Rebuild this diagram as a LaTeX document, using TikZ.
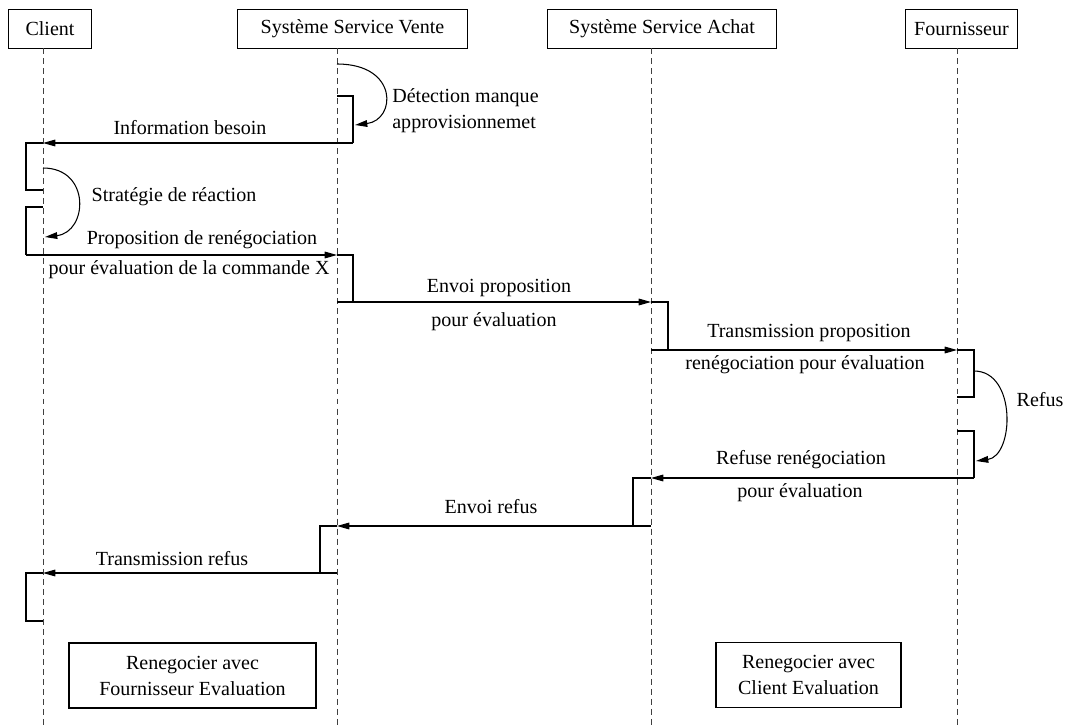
\documentclass[tikz,border=0pt]{standalone}
\usepackage{fontspec}
\setmainfont{Liberation Serif}
\usetikzlibrary{arrows.meta,positioning}

\begin{document}
\begin{tikzpicture}[
  x=0.02cm, y=-0.02cm,
  font=\fontsize{11.4}{14.8}\selectfont,
  actor/.style={draw, line width=0.6pt, minimum height=0.78cm, inner sep=0pt},
  life/.style={dash pattern=on 3.4pt off 2.3pt, line width=0.5pt, draw=black!75},
  bar/.style={line width=0.6pt},
  msg/.style={-{Triangle[length=7pt,width=3.8pt]}, line width=0.6pt},
  goal/.style={draw, line width=0.6pt, align=center, inner sep=0pt, minimum height=1.3cm}
]
\useasboundingbox (0,0) rectangle (1066,727);

\node[actor, minimum width=1.66cm, anchor=north west] (cl) at (8,9) {Client};
\node[actor, minimum width=4.6cm, anchor=north west] (sv) at (237,9) {Système Service Vente};
\node[actor, minimum width=4.58cm, anchor=north west] (sa) at (547,9) {Système Service Achat};
\node[actor, minimum width=2.24cm, anchor=north west] (fo) at (905,9) {Fournisseur};

\foreach \n/\x in {cl/43, sv/337, sa/651, fo/957}{
  \coordinate (\n top) at (\x,48);
  \coordinate (\n end) at (\x,727);
  \draw[life] (\n top) -- (\n end);
}

\coordinate (m1a) at (337,64);   \coordinate (m1b) at (355,125);
\coordinate (m2a) at (353,143);  \coordinate (m2b) at (43,143);
\coordinate (m3a) at (43,168);   \coordinate (m3b) at (45,237);
\coordinate (m4a) at (26,255);   \coordinate (m4b) at (337,255);
\coordinate (m5a) at (337,302);  \coordinate (m5b) at (651,302);
\coordinate (m6a) at (651,350);  \coordinate (m6b) at (957,350);
\coordinate (m7a) at (974,371);  \coordinate (m7b) at (976,461);
\coordinate (m8a) at (974,478);  \coordinate (m8b) at (651,478);
\coordinate (m9a) at (651,526);  \coordinate (m9b) at (337,526);
\coordinate (m10a) at (337,573); \coordinate (m10b) at (43,573);

\draw[bar] (337,96) -- (353,96) -- (353,143);
\draw[bar] (43,143) -- (26,143) -- (26,190) -- (43,190);
\draw[bar] (43,207) -- (26,207) -- (26,255);
\draw[bar] (337,255) -- (353,255) -- (353,302);
\draw[bar] (651,302) -- (668,302) -- (668,350);
\draw[bar] (957,350) -- (974,350) -- (974,397) -- (957,397);
\draw[bar] (957,431) -- (974,431) -- (974,478);
\draw[bar] (651,478) -- (633,478) -- (633,526);
\draw[bar] (337,526) -- (320,526) -- (320,573);
\draw[bar] (43,573) -- (26,573) -- (26,621) -- (43,621);

\draw[msg] (m1a) .. controls (399,64) and (396,120) .. (m1b);
\draw[msg] (m2a) -- (m2b);
\draw[msg] (m3a) .. controls (91,168) and (88,232) .. (m3b);
\draw[msg] (m4a) -- (m4b);
\draw[msg] (m5a) -- (m5b);
\draw[msg] (m6a) -- (m6b);
\draw[msg] (m7a) .. controls (1017,371) and (1014,456) .. (m7b);
\draw[msg] (m8a) -- (m8b);
\draw[msg] (m9a) -- (m9b);
\draw[msg] (m10a) -- (m10b);

\node[align=left, anchor=west, inner sep=0pt] (l1) at (392,111) {Détection manque\\approvisionnemet};
\node (l2) at (190,128) {Information besoin};
\node (l3) at (174,197) {Stratégie de réaction};
\node (l4) at (202,240) {Proposition de renégociation};
\node (l4b) at (189,270) {pour évaluation de la commande X};
\node (l5) at (499,288) {Envoi proposition};
\node (l5b) at (494,322) {pour évaluation};
\node (l6) at (809,333) {Transmission proposition};
\node (l6b) at (805,365) {renégociation pour évaluation};
\node (l7) at (1040,400) {Refus};
\node (l8) at (801,460) {Refuse renégociation};
\node (l8b) at (800,493) {pour évaluation};
\node (l9) at (491,507) {Envoi refus};
\node (l10) at (172,559) {Transmission refus};

\node[goal, minimum width=4.94cm] (g1) at (192.5,675.5) {Renegocier avec\\Fournisseur Evaluation};
\node[goal, minimum width=3.7cm] (g2) at (808.5,675) {Renegocier avec\\Client Evaluation};
\end{tikzpicture}
\end{document}
